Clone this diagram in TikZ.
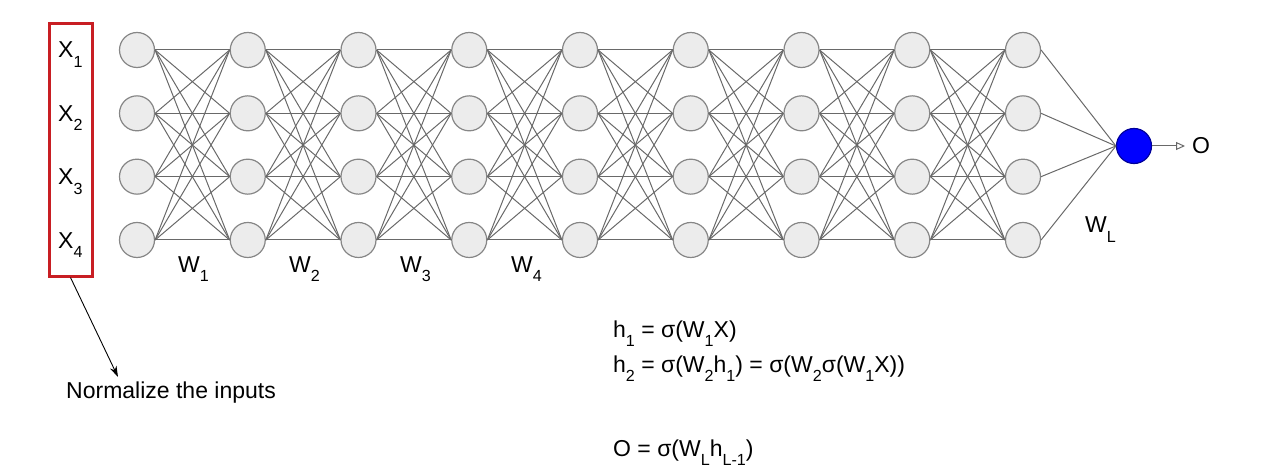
\documentclass[tikz,border=0pt]{standalone}
\usepackage{graphicx}
\usepackage{fontspec}
\setmainfont{Liberation Sans}
\usetikzlibrary{arrows.meta}

\definecolor{boxred}{RGB}{200,30,35}
\definecolor{linkgray}{RGB}{105,105,105}
\newcommand{\lo}[1]{\raisebox{-0.4em}{\scalebox{0.7}{#1}}}

\begin{document}
\begin{tikzpicture}[x=1pt, y=-1pt, font=\fontsize{23}{27}\selectfont,
    neuron/.style={circle, draw=gray!95, fill=gray!15, line width=1.2pt, minimum size=35pt, inner sep=0pt},
    outneuron/.style={neuron, draw=blue!60!black, fill=blue},
    link/.style={draw=linkgray, line width=1pt},
    lbl/.style={inner sep=0pt, anchor=base west}]
    \useasboundingbox (0,0) rectangle (1262,476);

    % layers of neurons
    \foreach \i in {1,...,9}
        \foreach \j in {1,...,4}
            \node[neuron] (n-\i-\j) at ({137+110.75*(\i-1)}, {50+63.33*(\j-1)}) {};

    % weights between layers
    \foreach \i [evaluate=\i as \k using int(\i+1)] in {1,...,8}
        \foreach \j in {1,...,4}
            \foreach \m in {1,...,4}
                \draw[link] (n-\i-\j.east) -- (n-\k-\m.west);

    % output neuron
    \node[outneuron] (out) at (1134,146) {};
    \foreach \j in {1,...,4}
        \draw[link] (n-9-\j.east) -- (out.west);
    \node[anchor=west, inner sep=7pt] (olabel) at (1185,146) {O};
    \draw[link, -{Triangle[open, length=9pt, width=8pt]}] (out) -- (olabel);
    \node[lbl] (wl) at (1085,233) {W\lo{L}};

    % inputs
    \node[draw=boxred, line width=3pt, minimum width=43pt, minimum height=252pt, inner sep=0pt] (inbox) at (70.5,150) {};
    \foreach \j in {1,...,4}
        \node[lbl] (x-\j) at (58, {58+63.5*(\j-1)}) {X\lo{\j}};
    \foreach \k in {1,...,4}
        \node[lbl] (w-\k) at ({178+111*(\k-1)}, 272) {W\lo{\k}};

    % normalization note
    \node[lbl] (norm) at (66,398) {Normalize the inputs};
    \coordinate (nend) at (118,377);
    \draw[line width=0.9pt, -{Stealth[length=11pt, width=7pt]}] (inbox.south) -- (nend);

    % equations
    \node[lbl] (eq-h1) at (613,337) {h\lo{1} = σ(W\lo{1}X)};
    \node[lbl] (eq-h2) at (613,372) {h\lo{2} = σ(W\lo{2}h\lo{1}) = σ(W\lo{2}σ(W\lo{1}X))};
    \node[lbl] (eq-o) at (613,456) {O = σ(W\lo{L}h\lo{L-1})};
\end{tikzpicture}
\end{document}
